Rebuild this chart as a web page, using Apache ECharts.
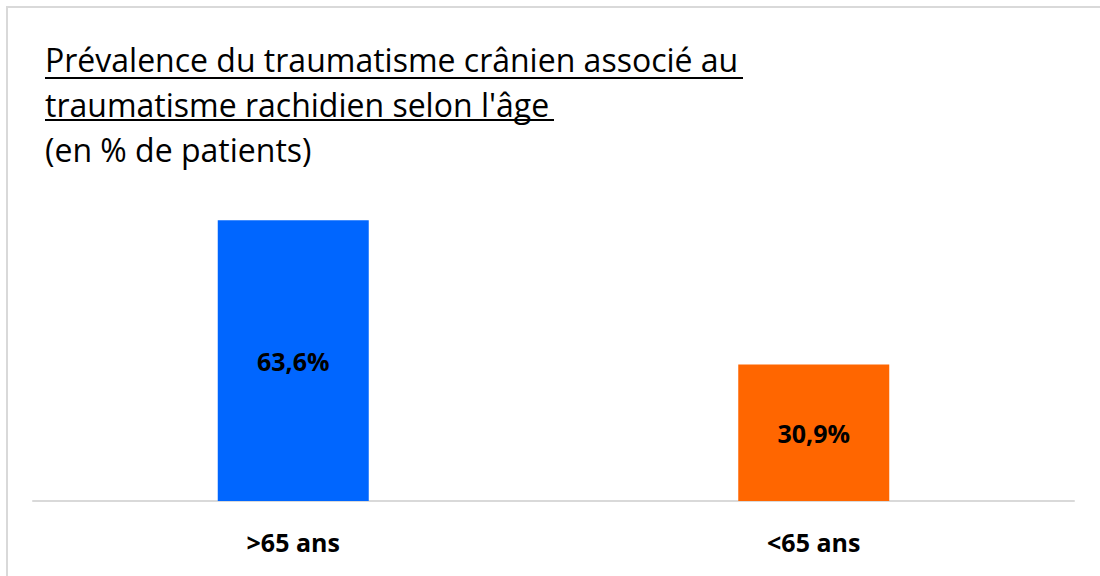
<!DOCTYPE html>
<html>
<head>
<meta charset="utf-8">
<script src="https://cdn.jsdelivr.net/npm/echarts@6/dist/echarts.min.js"></script>
<style>
  html, body { margin: 0; padding: 0; background: #fff; }
  #chart { width: 1100px; height: 576px; }
</style>
</head>
<body>
<div id="chart"></div>
<script>
// data
const categories = [">65 ans", "<65 ans"];
const values = [63.6, 30.9];
const barColors = ["#0066ff", "#ff6600"];

const titleLines = [
  "Prévalence du traumatisme crânien associé au",
  "traumatisme rachidien selon l'âge",
  "(en % de patients)"
];

const FONT = "Open Sans";

const chart = echarts.init(document.getElementById("chart"), null, { renderer: "svg" });

chart.setOption({
  animation: false,
  textStyle: { fontFamily: FONT },
  title: {
    text: titleLines.join("\n"),
    left: 45,
    top: 37,
    padding: 0,
    textStyle: {
      fontFamily: FONT,
      fontSize: 32,
      fontWeight: "normal",
      color: "#000",
      lineHeight: 45
    }
  },
  graphic: [
    // outer frame
    {
      type: "rect",
      shape: { x: 7, y: 7, width: 1100, height: 580 },
      style: { fill: "none", stroke: "#d9d9d9", lineWidth: 2 },
      silent: true
    },
    // underlines of the first two title lines
    {
      type: "line",
      shape: { x1: 45, y1: 78, x2: 743, y2: 78 },
      style: { stroke: "#000", lineWidth: 2 }
    },
    {
      type: "line",
      shape: { x1: 45, y1: 120, x2: 554, y2: 120 },
      style: { stroke: "#000", lineWidth: 2 }
    }
  ],
  grid: { left: 33, right: 26, top: 192, bottom: 75 },
  xAxis: {
    type: "category",
    data: categories,
    axisLine: { lineStyle: { color: "#d9d9d9", width: 2 } },
    axisTick: { show: false },
    axisLabel: {
      margin: 28,
      fontFamily: FONT,
      fontSize: 25,
      fontWeight: "bold",
      color: "#000"
    }
  },
  yAxis: {
    type: "value",
    min: 0,
    max: 70,
    show: false,
    splitLine: { show: false }
  },
  series: [{
    type: "bar",
    barWidth: 151,
    data: values.map((v, i) => ({ value: v, itemStyle: { color: barColors[i] } })),
    label: {
      show: true,
      position: "inside",
      fontFamily: FONT,
      fontSize: 25,
      fontWeight: "bold",
      color: "#000",
      formatter: (p) => p.value.toFixed(1).replace(".", ",") + "%"
    }
  }]
});
</script>
</body>
</html>
